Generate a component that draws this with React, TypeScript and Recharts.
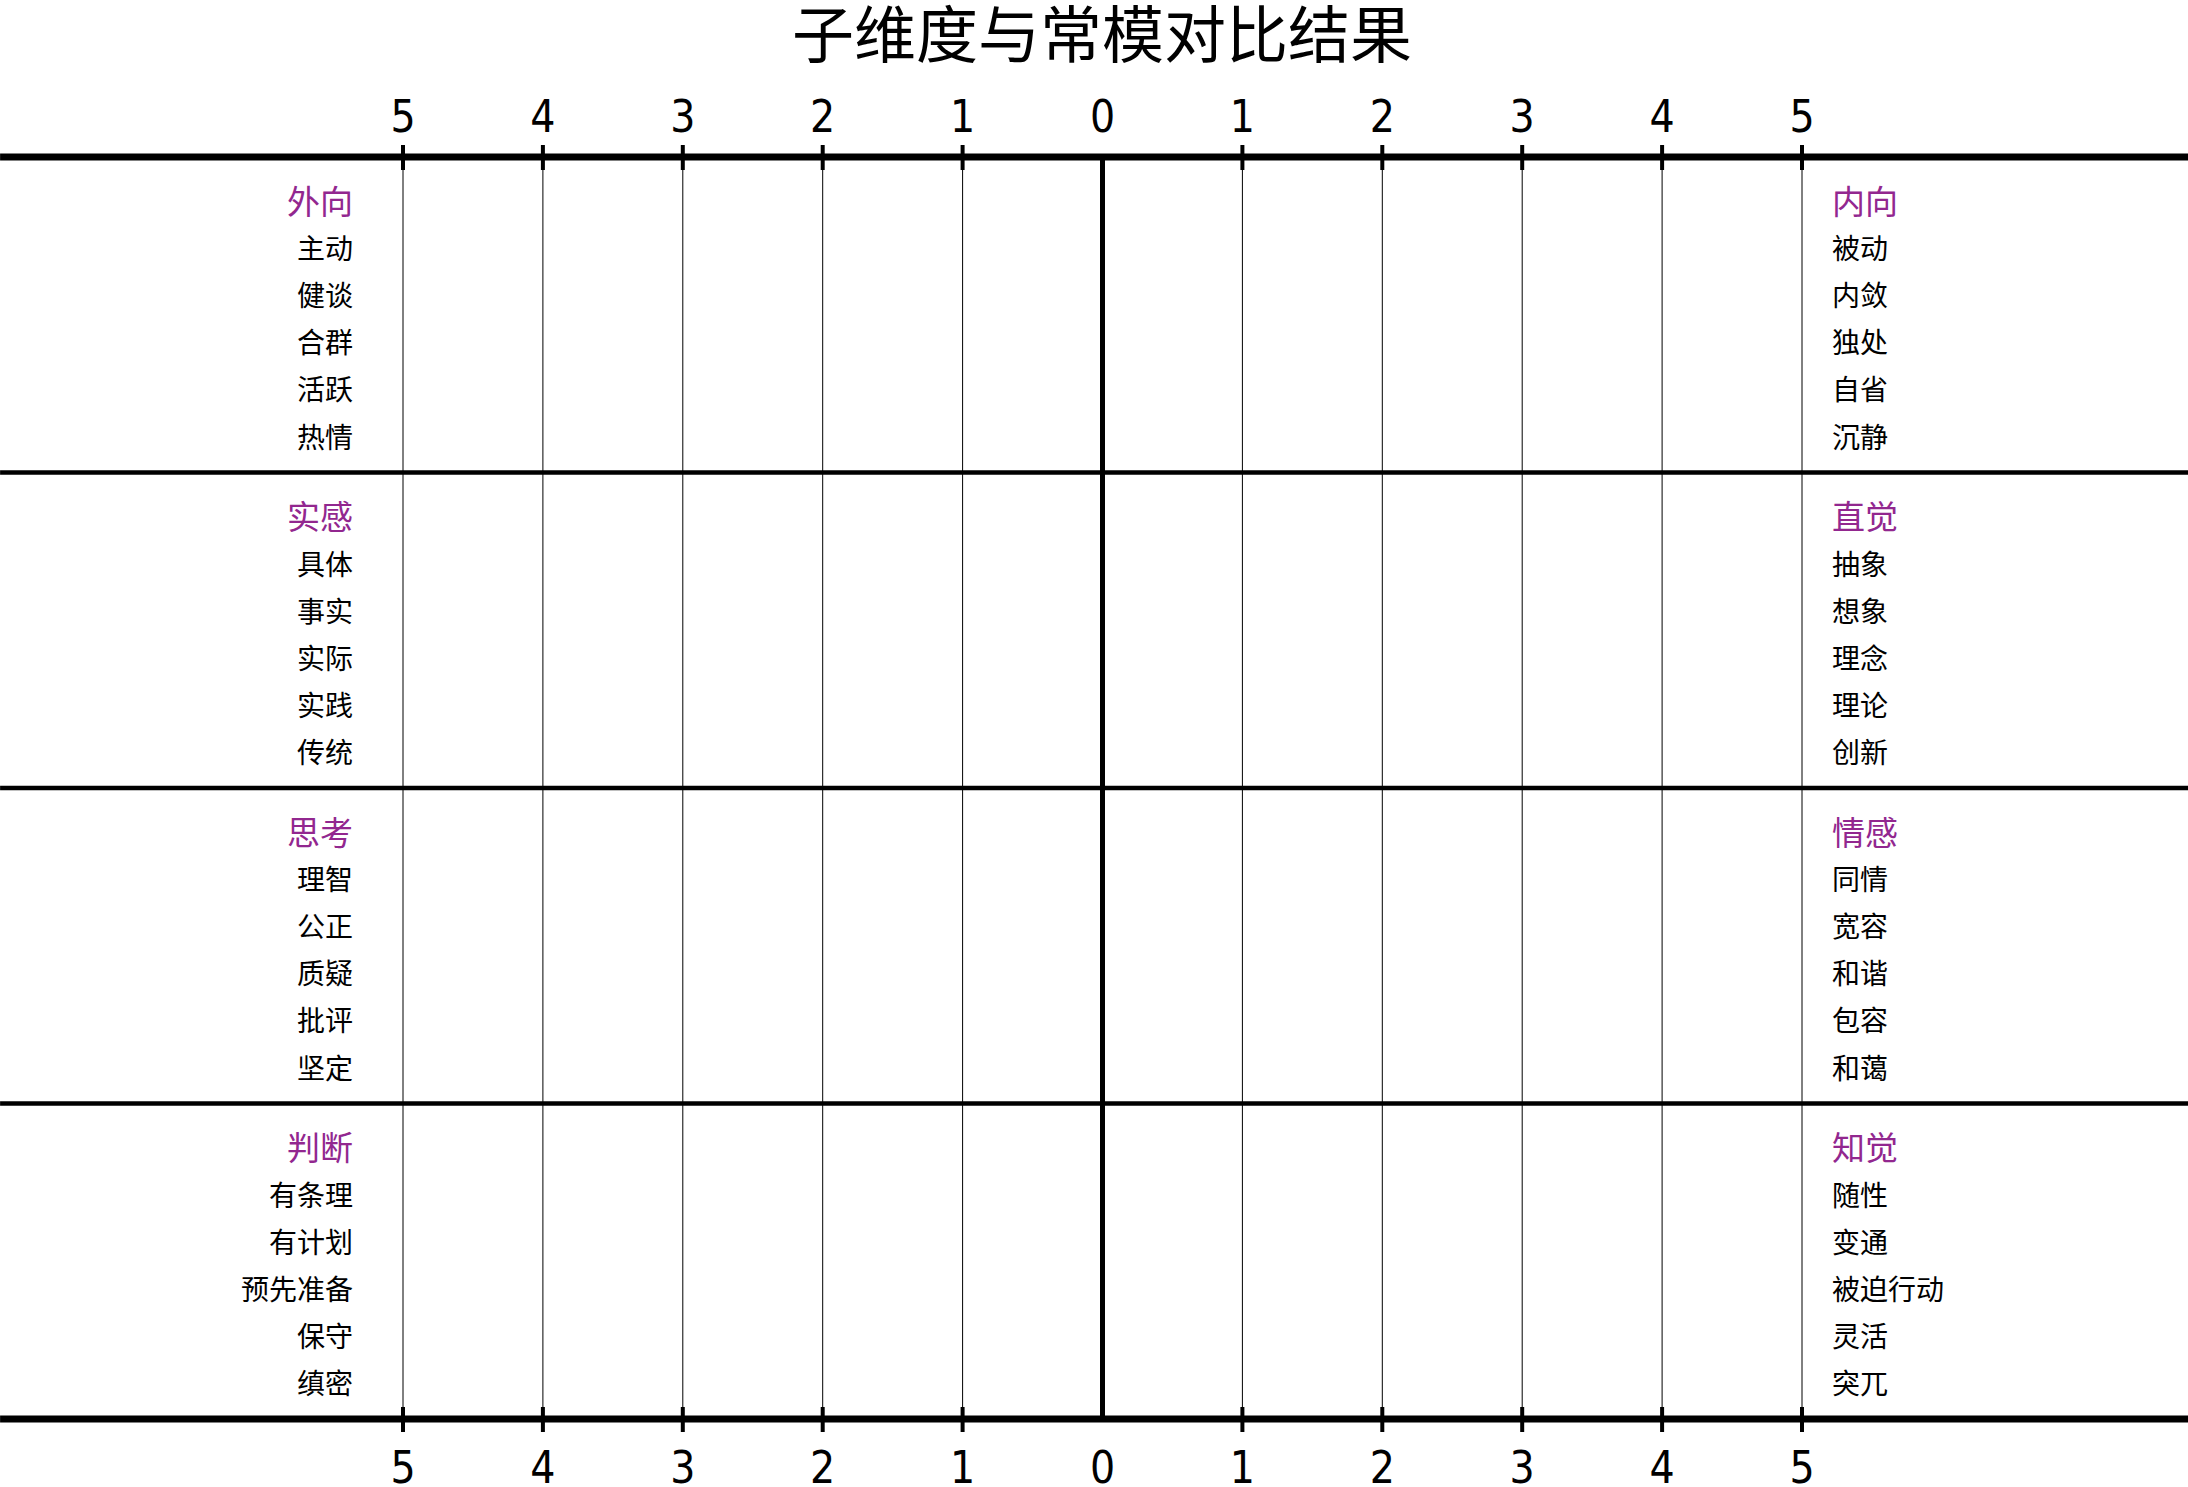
import { CartesianGrid, ComposedChart, ReferenceLine, XAxis, YAxis } from "recharts";

const TITLE = "子维度与常模对比结果";

// left / right poles of each dimension
const leftHeads = ["外向", "实感", "思考", "判断"];
const rightHeads = ["内向", "直觉", "情感", "知觉"];

const leftItems = [
  ["主动", "健谈", "合群", "活跃", "热情"],
  ["具体", "事实", "实际", "实践", "传统"],
  ["理智", "公正", "质疑", "批评", "坚定"],
  ["有条理", "有计划", "预先准备", "保守", "缜密"],
];
const rightItems = [
  ["被动", "内敛", "独处", "自省", "沉静"],
  ["抽象", "想象", "理念", "理论", "创新"],
  ["同情", "宽容", "和谐", "包容", "和蔼"],
  ["随性", "变通", "被迫行动", "灵活", "突兀"],
];

const scaleTicks = [-5, -4, -3, -2, -1, 0, 1, 2, 3, 4, 5];

const PURPLE = "#92278f";
const DIGIT_FONT = '"Liberation Sans Narrow", "DejaVu Sans Condensed", sans-serif';
const CJK_FONT = '"Noto Sans CJK SC", sans-serif';

// one header row + 5 item rows per group
const GROUP_SPAN = 6.7;
const rows = leftHeads.flatMap((head, g) => [
  { pos: g * GROUP_SPAN, left: head, right: rightHeads[g], head: true },
  ...leftItems[g].map((name, i) => ({
    pos: g * GROUP_SPAN + i + 1,
    left: name,
    right: rightItems[g][i],
    head: false,
  })),
]);
const rulePositions = [0, 1, 2, 3, 4].map((g) => g * GROUP_SPAN - 0.95);
const yDomain = [rulePositions[0], rulePositions[4]];

// scale points, used as the chart's data so the number axes get a domain
const scaleData = scaleTicks.map((v) => ({ score: v }));

const ScaleTick = (props: any) => {
  const { x, y, payload, side } = props;
  const v = payload.value;
  const top = side === "top";
  return (
    <g>
      {v !== 0 && (
        <line x1={x} x2={x} y1={y - 12} y2={y + 13} stroke="#000" strokeWidth={4} />
      )}
      <text
        x={x}
        y={top ? y - 25 : y + 64}
        textAnchor="middle"
        fontSize={44}
        fontFamily={DIGIT_FONT}
        fill="#000"
      >
        {Math.abs(v)}
      </text>
    </g>
  );
};

const NameTick = (props: any) => {
  const { x, y, payload, side } = props;
  const row = rows.find((r) => Math.abs(r.pos - payload.value) < 0.01);
  if (!row) return null;
  return (
    <text
      x={x}
      y={y}
      dy="0.37em"
      textAnchor={side === "left" ? "end" : "start"}
      fontSize={row.head ? 33 : 28}
      fontFamily={CJK_FONT}
      fill={row.head ? PURPLE : "#000"}
    >
      {side === "left" ? row.left : row.right}
    </text>
  );
};

const App = () => {
  return (
    <div style={{ position: "relative", width: 2188, height: 1487, background: "#fff" }}>
      <style>{"body{margin:0;overflow:hidden}"}</style>
      <div
        style={{
          position: "absolute",
          left: 702,
          width: 800,
          top: 0,
          textAlign: "center",
          fontSize: 62,
          lineHeight: "62px",
          fontFamily: CJK_FONT,
          color: "#000",
        }}
      >
        {TITLE}
      </div>
      <ComposedChart
        width={2188}
        height={1487}
        data={scaleData}
        margin={{ top: 0, right: 0, bottom: 0, left: 0 }}
      >
        <XAxis
          xAxisId="top"
          orientation="top"
          dataKey="score"
          type="number"
          domain={[-5, 5]}
          ticks={scaleTicks}
          interval={0}
          height={157}
          axisLine={false}
          tickLine={false}
          tickSize={0}
          tickMargin={0}
          allowDataOverflow
          tick={<ScaleTick side="top" />}
        />
        <XAxis
          xAxisId="bottom"
          orientation="bottom"
          dataKey="score"
          type="number"
          domain={[-5, 5]}
          ticks={scaleTicks}
          interval={0}
          height={68}
          axisLine={false}
          tickLine={false}
          tickSize={0}
          tickMargin={0}
          allowDataOverflow
          tick={<ScaleTick side="bottom" />}
        />
        <YAxis
          yAxisId="left"
          type="number"
          domain={yDomain}
          reversed
          ticks={rows.map((r) => r.pos)}
          interval={0}
          width={403}
          axisLine={false}
          tickLine={false}
          tickSize={0}
          tickMargin={50}
          allowDataOverflow
          tick={<NameTick side="left" />}
        />
        <YAxis
          yAxisId="right"
          orientation="right"
          type="number"
          domain={yDomain}
          reversed
          ticks={rows.map((r) => r.pos)}
          interval={0}
          width={386}
          axisLine={false}
          tickLine={false}
          tickSize={0}
          tickMargin={30}
          allowDataOverflow
          tick={<NameTick side="right" />}
        />
        <CartesianGrid
          xAxisId="bottom"
          yAxisId="left"
          horizontal={false}
          stroke="#000"
          strokeWidth={1}
        />
        {rulePositions.map((p, i) => (
          <ReferenceLine
            key={i}
            xAxisId="bottom"
            yAxisId="left"
            segment={[
              { x: -7.88, y: p },
              { x: 7.76, y: p },
            ]}
            ifOverflow="visible"
            stroke="#000"
            strokeWidth={i === 0 || i === rulePositions.length - 1 ? 7 : 4.5}
          />
        ))}
        <ReferenceLine xAxisId="bottom" yAxisId="left" x={0} stroke="#000" strokeWidth={5} />
      </ComposedChart>
    </div>
  );
};

export default App;
